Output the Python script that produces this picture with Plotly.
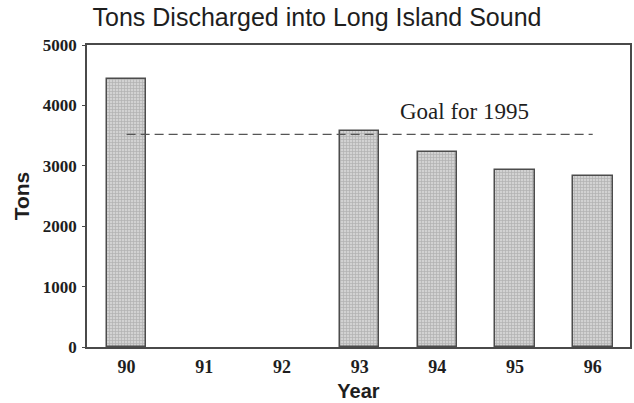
import plotly.graph_objects as go

# Annual discharge into Long Island Sound (tons); no bars for 1991-92
years = ["90", "91", "92", "93", "94", "95", "96"]
tons = [4440, None, None, 3580, 3230, 2930, 2830]
goal_1995 = 3520
y_ticks = [0, 1000, 2000, 3000, 4000, 5000]

ink = "#1e1e1e"
frame = "#4a4a4a"

fig = go.Figure()

fig.add_trace(go.Bar(
    x=years,
    y=tons,
    width=0.51,
    marker=dict(
        color="#cccccc",
        line=dict(color="#4c4c4c", width=1.5),
        pattern=dict(shape="+", size=3, solidity=0.4,
                     fgcolor="#8e8e8e", bgcolor="#d2d2d2"),
    ),
    showlegend=False,
    hoverinfo="x+y",
))

# Target level, spanning the first to the last year
fig.add_trace(go.Scatter(
    x=[years[0], years[-1]],
    y=[goal_1995, goal_1995],
    mode="lines",
    line=dict(color="#555555", width=1.4, dash="9px,5px"),
    showlegend=False,
    hoverinfo="skip",
))

fig.add_annotation(
    x=4.35, y=3905, xref="x", yref="y",
    text="Goal for 1995",
    showarrow=False,
    font=dict(family="Liberation Serif", size=23, color=ink),
)

fig.update_layout(
    width=634,
    height=403,
    margin=dict(l=87, r=2, t=45, b=56),
    paper_bgcolor="white",
    plot_bgcolor="white",
    title=dict(
        text="Tons Discharged into Long Island Sound",
        x=0.5, xref="container", xanchor="center",
        y=1 - 17.5 / 403, yref="container", yanchor="middle",
        font=dict(family="Liberation Sans", size=25, color=ink),
    ),
    bargap=0,
    xaxis=dict(
        type="category",
        categoryorder="array",
        categoryarray=years,
        range=[-0.51, 6.48],
        showline=True, linecolor=frame, linewidth=1.5, mirror=True,
        ticks="", showgrid=False, zeroline=False,
        ticklabelstandoff=3,
        tickfont=dict(family="Liberation Serif", size=18, color=ink, weight="bold"),
        title=dict(text="Year", standoff=8,
                   font=dict(family="Liberation Sans", size=20, color=ink, weight="bold")),
    ),
    yaxis=dict(
        range=[0, 5000],
        tickvals=y_ticks,
        ticktext=[str(v) for v in y_ticks],
        showline=True, linecolor=frame, linewidth=1.5, mirror=True,
        ticks="outside", ticklen=3, tickcolor=frame, tickwidth=1,
        showgrid=False, zeroline=False,
        ticklabelstandoff=2,
        tickfont=dict(family="Liberation Serif", size=17, color=ink, weight="bold"),
        title=dict(text="Tons", standoff=7,
                   font=dict(family="Liberation Sans", size=21, color=ink, weight="bold")),
    ),
)

fig.write_html("out.html")
